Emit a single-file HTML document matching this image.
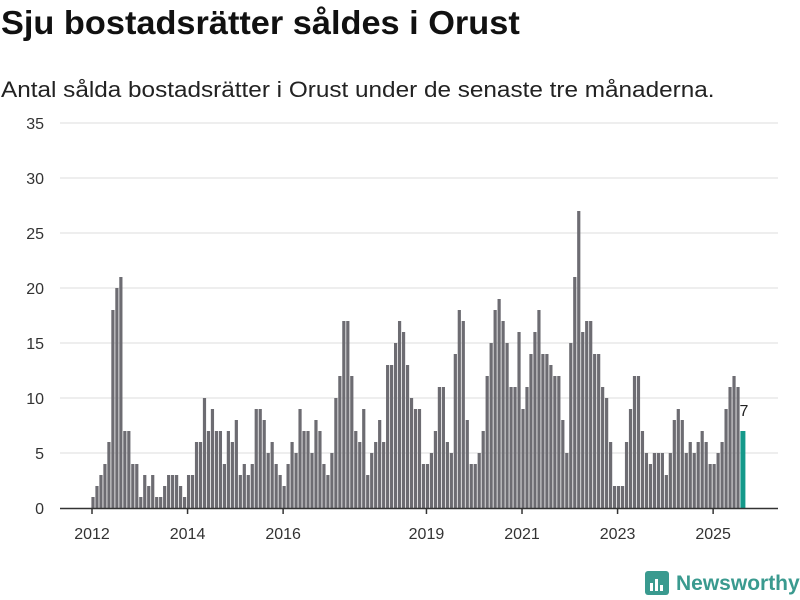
<!DOCTYPE html>
<html><head><meta charset="utf-8"><style>
body{margin:0;background:#fff;font-family:"Liberation Sans",sans-serif;}
#wrap{position:relative;width:800px;height:600px;overflow:hidden;}
h1{position:absolute;left:1px;top:4px;margin:0;font-size:33px;font-weight:bold;color:#111;transform-origin:0 0;transform:scaleX(1.04);white-space:nowrap;}
p.sub{position:absolute;left:1px;top:77px;margin:0;font-size:22px;color:#222;transform-origin:0 0;transform:scaleX(1.105);white-space:nowrap;}
</style></head><body>
<div id="wrap">
<h1>Sju bostadsrätter såldes i Orust</h1>
<p class="sub">Antal sålda bostadsrätter i Orust under de senaste tre månaderna.</p>
<svg id="chart" width="800" height="600" style="position:absolute;left:0;top:0"></svg>
</div>
<script>
const values=[1,2,3,4,6,18,20,21,7,7,4,4,
1,3,2,3,1,1,2,3,3,3,2,1,
3,3,6,6,10,7,9,7,7,4,7,6,
8,3,4,3,4,9,9,8,5,6,4,3,
2,4,6,5,9,7,7,5,8,7,4,3,
5,10,12,17,17,12,7,6,9,3,5,6,
8,6,13,13,15,17,16,13,10,9,9,4,
4,5,7,11,11,6,5,14,18,17,8,4,
4,5,7,12,15,18,19,17,15,11,11,16,
9,11,14,16,18,14,14,13,12,12,8,5,
15,21,27,16,17,17,14,14,11,10,6,2,
2,2,6,9,12,12,7,5,4,5,5,5,
3,5,8,9,8,5,6,5,6,7,6,4,
4,5,6,9,11,12,11,7];
const yTicks=[0,5,10,15,20,25,30,35];
const xTickLabels=["2012","2014","2016","2019","2021","2023","2025"];
const xTickIndex=[0,24,48,84,108,132,156];
const NS="http://www.w3.org/2000/svg";
const svg=document.getElementById('chart');
const y0=508, unit=11, x0=93, step=(742-93)/(values.length-1);
const yPos=v=>y0-v*unit;
const xPos=i=>x0+i*step;
function mk(t,a){const e=document.createElementNS(NS,t);for(const k in a)e.setAttribute(k,a[k]);svg.appendChild(e);return e;}
yTicks.forEach(v=>{
  if(v>0){const g=mk('line',{x1:60,x2:778,y1:yPos(v),y2:yPos(v),stroke:'#dcdcdc','stroke-width':1});
  
  }
  const t=mk('text',{x:44,y:yPos(v)+6,'text-anchor':'end','font-size':16,fill:'#333','font-family':'Liberation Sans, sans-serif'});
  t.textContent=v;
  
  
});
values.forEach((v,i)=>{
  const last=i===values.length-1;
  const r=mk('rect',{x:xPos(i)-1.6,y:yPos(v),width:last?5:3.2,height:v*unit,fill:last?'#14998a':'#6d6c72'});
  
  
  if(last){const t=mk('text',{x:xPos(i)+2,y:yPos(v)-15,'text-anchor':'middle','font-size':16,fill:'#222'});
  t.textContent=v;
  
  }
});
const ax=mk('line',{x1:60,x2:778,y1:y0+0.5,y2:y0+0.5,stroke:'#333','stroke-width':1.5});


xTickLabels.forEach((lab,k)=>{
  const x=xPos(xTickIndex[k])-1;
  const l=mk('line',{x1:x,x2:x,y1:y0,y2:y0+6,stroke:'#333','stroke-width':1.5});
  
  
  const t=mk('text',{x:x,y:539,'text-anchor':'middle','font-size':16,fill:'#333'});
  t.textContent=lab;
  
  
});
const lg=mk('g',{});


const b=mk('rect',{x:645,y:571,width:24,height:24,rx:3,fill:'#3a9a8f'});
lg.appendChild(b);
[[650,583,3,8],[655,579,3,12],[660,585,3,6]].forEach(a=>{const r=mk('rect',{x:a[0],y:a[1],width:a[2],height:a[3],fill:'#fff'});lg.appendChild(r);});
const lt=mk('text',{x:676,y:590,'font-size':21,'font-weight':'bold',fill:'#3a9a8f'});
lt.textContent='Newsworthy';


</script>
</body></html>
